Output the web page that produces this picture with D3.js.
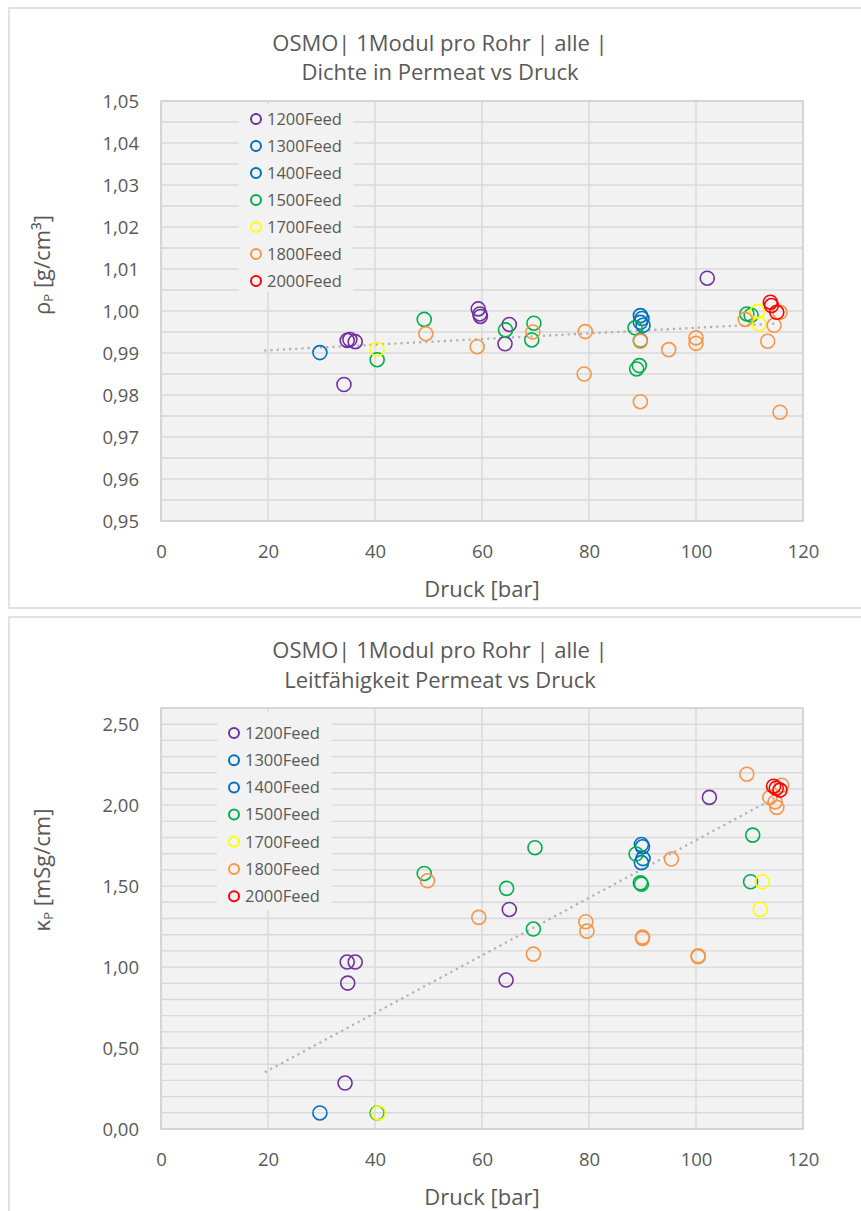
<!DOCTYPE html>
<html>
<head>
<meta charset="utf-8">
<script src="https://cdn.jsdelivr.net/npm/d3@7"></script>
<style>
  html, body { margin: 0; padding: 0; background: #ffffff; }
  svg { display: block; }
  text { font-family: "Open Sans", "Noto Sans", sans-serif; fill: #595959; }
</style>
</head>
<body>
<svg id="chart" width="861" height="1211"></svg>
<script>
// ---------------- DATA ----------------
const seriesNames = ["1200Feed", "1300Feed", "1400Feed", "1500Feed", "1700Feed", "1800Feed", "2000Feed"];

const xTicks = [0, 20, 40, 60, 80, 100, 120];
const densityTicks = [0.95, 0.96, 0.97, 0.98, 0.99, 1.00, 1.01, 1.02, 1.03, 1.04, 1.05];
const conductTicks = [0.00, 0.50, 1.00, 1.50, 2.00, 2.50];

// Chart 1: Dichte in Permeat (g/cm³) vs Druck (bar)
const dens1200X = [34.8, 35.3, 36.3, 34.2, 59.3, 59.6, 59.7, 65.1, 64.3, 102.1];
const dens1200Y = [0.9930, 0.9932, 0.9927, 0.9825, 1.0005, 0.9993, 0.9987, 0.9968, 0.9922, 1.0078];
const dens1300X = [29.7, 89.6, 89.9];
const dens1300Y = [0.9901, 0.9989, 0.9982];
const dens1400X = [89.6, 90.1];
const dens1400Y = [0.9973, 0.9966];
const dens1500X = [40.4, 49.2, 64.4, 69.7, 69.3, 88.6, 88.9, 89.4, 89.6, 109.5, 110.3];
const dens1500Y = [0.9884, 0.9980, 0.9955, 0.9971, 0.9931, 0.9960, 0.9862, 0.9870, 0.9930, 0.9993, 0.9990];
const dens1700X = [40.4, 111.5, 111.8];
const dens1700Y = [0.9909, 0.9999, 0.9969];
const dens1800X = [49.5, 59.1, 69.5, 79.3, 79.1, 89.6, 89.6, 94.9, 100.0, 100.0, 109.2, 114.6, 115.7, 113.4, 115.7];
const dens1800Y = [0.9946, 0.9915, 0.9950, 0.9951, 0.9850, 0.9928, 0.9784, 0.9908, 0.9936, 0.9923, 0.9980, 0.9966, 0.9997, 0.9928, 0.9759];
const dens2000X = [113.9, 114.1, 115.1];
const dens2000Y = [1.0021, 1.0013, 0.9997];
const densTrendX = [19.3, 114.8];
const densTrendY = [0.9906, 0.9970];

// Chart 2: Leitfähigkeit Permeat (mS/cm) vs Druck (bar)
const cond1200X = [34.8, 36.3, 34.9, 34.4, 64.5, 65.1, 102.5];
const cond1200Y = [1.031, 1.031, 0.901, 0.284, 0.920, 1.356, 2.048];
const cond1300X = [29.7, 89.8, 90.0];
const cond1300Y = [0.099, 1.757, 1.743];
const cond1400X = [90.1, 89.8];
const cond1400Y = [1.670, 1.645];
const cond1500X = [40.4, 49.2, 64.6, 69.9, 69.6, 88.8, 89.8, 89.6, 110.2, 110.6];
const cond1500Y = [0.099, 1.578, 1.486, 1.737, 1.235, 1.698, 1.512, 1.520, 1.527, 1.815];
const cond1700X = [40.6, 112.4, 112.0];
const cond1700Y = [0.099, 1.527, 1.356];
const cond1800X = [49.8, 59.4, 69.6, 79.4, 79.6, 90.0, 90.0, 95.4, 100.4, 100.4, 109.5, 116.0, 113.8, 115.1, 114.8];
const cond1800Y = [1.533, 1.307, 1.080, 1.280, 1.222, 1.177, 1.185, 1.667, 1.064, 1.070, 2.191, 2.123, 2.048, 1.986, 2.020];
const cond2000X = [114.5, 115.7, 115.0];
const cond2000Y = [2.117, 2.093, 2.105];
const condTrendX = [19.4, 115.0];
const condTrendY = [0.35, 2.05];

// ---------------- STYLE ----------------
const seriesColors = ["#7030A0", "#0070C0", "#0070C0", "#00B050", "#FFFF00", "#F79646", "#FF0000"];
const gridColor = "#D9D9D9";
const plotBg = "#F2F2F2";

const svg = d3.select("#chart");
const fmt = v => d3.format(".2f")(v).replace(".", ",");

function drawChart(cfg) {
  const g = svg.append("g");
  // card
  g.append("rect")
    .attr("x", cfg.card[0]).attr("y", cfg.card[1])
    .attr("width", cfg.card[2]).attr("height", cfg.card[3])
    .attr("fill", "#ffffff").attr("stroke", "#D9D9D9").attr("stroke-width", 1.5);

  const x = d3.scaleLinear().domain([0, 120]).range([cfg.left, cfg.right]);
  const y = d3.scaleLinear().domain(cfg.yDomain).range([cfg.bottom, cfg.top]);

  // plot background
  g.append("rect")
    .attr("x", cfg.left).attr("y", cfg.top)
    .attr("width", cfg.right - cfg.left).attr("height", cfg.bottom - cfg.top)
    .attr("fill", plotBg);

  // horizontal gridlines
  const gridY = d3.range(cfg.yDomain[0], cfg.yDomain[1] + cfg.gridStep / 2, cfg.gridStep);
  g.append("g").selectAll("line").data(gridY).join("line")
    .attr("x1", cfg.left).attr("x2", cfg.right)
    .attr("y1", d => y(d)).attr("y2", d => y(d))
    .attr("stroke", gridColor).attr("stroke-width", 1.4);
  // vertical gridlines
  g.append("g").selectAll("line").data(xTicks).join("line")
    .attr("x1", d => x(d)).attr("x2", d => x(d))
    .attr("y1", cfg.top).attr("y2", cfg.bottom)
    .attr("stroke", gridColor).attr("stroke-width", 1.4);

  // plot border
  g.append("rect")
    .attr("x", cfg.left).attr("y", cfg.top)
    .attr("width", cfg.right - cfg.left).attr("height", cfg.bottom - cfg.top)
    .attr("fill", "none").attr("stroke", "#D0D0D0").attr("stroke-width", 1.4);

  // axes (labels only, via d3 axis)
  const yAxis = d3.axisLeft(y).tickValues(cfg.yTicks).tickFormat(fmt).tickSize(0).tickPadding(0);
  const ya = g.append("g").attr("transform", `translate(${cfg.yLabelX},0)`).call(yAxis);
  ya.select(".domain").remove();
  ya.selectAll("text").attr("font-size", 18.5).attr("fill", "#595959")
    .attr("font-family", "'Open Sans', sans-serif").attr("dy", "0.35em");

  const xAxis = d3.axisBottom(x).tickValues(xTicks).tickSize(0).tickPadding(0);
  const xa = g.append("g").attr("transform", `translate(0,${cfg.xLabelY})`).call(xAxis);
  xa.select(".domain").remove();
  xa.selectAll("text").attr("font-size", 18.5).attr("fill", "#595959")
    .attr("font-family", "'Open Sans', sans-serif").attr("dy", "0.35em");

  // titles
  g.append("text").attr("x", cfg.titleX).attr("y", cfg.titleY[0])
    .attr("text-anchor", "middle").attr("font-size", 22).text(cfg.title[0]);
  g.append("text").attr("x", cfg.titleX).attr("y", cfg.titleY[1])
    .attr("text-anchor", "middle").attr("font-size", 22).text(cfg.title[1]);
  g.append("text").attr("x", (cfg.left + cfg.right) / 2).attr("y", cfg.xTitleY)
    .attr("text-anchor", "middle").attr("font-size", 22).text("Druck [bar]");

  const yt = g.append("text")
    .attr("transform", `translate(${cfg.yTitleX},${cfg.yTitleY}) rotate(-90)`)
    .attr("text-anchor", "middle").attr("font-size", 22);
  yt.append("tspan").text(cfg.yTitle[0]);
  yt.append("tspan").attr("font-size", 13).attr("dy", 3).text("P");
  yt.append("tspan").attr("dy", -3).text(cfg.yTitle[1]);

  // trendline
  const line = d3.line().x(d => x(d[0])).y(d => y(d[1]));
  g.append("path")
    .datum(d3.zip(cfg.trendX, cfg.trendY))
    .attr("d", line)
    .attr("fill", "none").attr("stroke", "#B0B0B0").attr("stroke-width", 2.2)
    .attr("stroke-dasharray", "2.2,4").attr("stroke-linecap", "butt");

  // points
  cfg.series.forEach((s, i) => {
    g.append("g").selectAll("circle").data(d3.zip(s[0], s[1])).join("circle")
      .attr("cx", d => x(d[0])).attr("cy", d => y(d[1])).attr("r", 7)
      .attr("fill", "none").attr("stroke", seriesColors[i]).attr("stroke-width", 1.6);
  });

  // legend
  const lg = g.append("g");
  lg.append("rect")
    .attr("x", cfg.legend[0]).attr("y", cfg.legend[1])
    .attr("width", cfg.legend[2]).attr("height", cfg.legend[3])
    .attr("fill", plotBg);
  seriesNames.forEach((name, i) => {
    const ly = cfg.legendY0 + i * cfg.legendStep;
    lg.append("circle").attr("cx", cfg.legendMarkX).attr("cy", ly).attr("r", 5)
      .attr("fill", "none").attr("stroke", seriesColors[i]).attr("stroke-width", 2);
    lg.append("text").attr("x", cfg.legendMarkX + 11).attr("y", ly).attr("dy", "0.35em")
      .attr("font-size", 16.5).text(name);
  });
}

drawChart({
  card: [9, 8, 860, 600],
  left: 161, right: 803, top: 101, bottom: 521,
  yDomain: [0.95, 1.05], gridStep: 0.005, yTicks: densityTicks,
  yLabelX: 139, xLabelY: 552, xTitleY: 597,
  titleX: 440, titleY: [51, 80],
  title: ["OSMO| 1Modul pro Rohr | alle  |", "Dichte in Permeat vs Druck"],
  yTitle: ["ρ", " [g/cm³]"], yTitleX: 50, yTitleY: 265,
  trendX: densTrendX, trendY: densTrendY,
  series: [[dens1200X, dens1200Y], [dens1300X, dens1300Y], [dens1400X, dens1400Y],
           [dens1500X, dens1500Y], [dens1700X, dens1700Y], [dens1800X, dens1800Y], [dens2000X, dens2000Y]],
  legend: [239, 104, 114, 188], legendY0: 119, legendStep: 27, legendMarkX: 256
});

drawChart({
  card: [9, 617, 860, 610],
  left: 161, right: 803, top: 708, bottom: 1129,
  yDomain: [0, 2.6], gridStep: 0.1, yTicks: conductTicks,
  yLabelX: 139, xLabelY: 1160, xTitleY: 1205,
  titleX: 440, titleY: [658, 688],
  title: ["OSMO| 1Modul pro Rohr | alle  |", "Leitfähigkeit Permeat vs Druck"],
  yTitle: ["κ", " [mSg/cm]"], yTitleX: 50, yTitleY: 870,
  trendX: condTrendX, trendY: condTrendY,
  series: [[cond1200X, cond1200Y], [cond1300X, cond1300Y], [cond1400X, cond1400Y],
           [cond1500X, cond1500Y], [cond1700X, cond1700Y], [cond1800X, cond1800Y], [cond2000X, cond2000Y]],
  legend: [217, 712, 115, 198], legendY0: 733, legendStep: 27.2, legendMarkX: 234
});
</script>
</body>
</html>
